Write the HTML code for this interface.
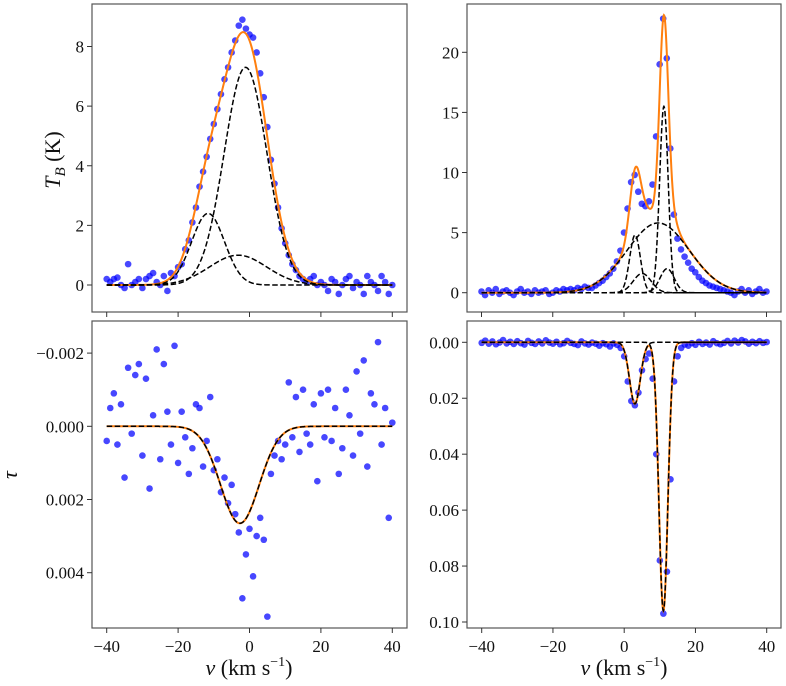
<!DOCTYPE html>
<html><head><meta charset="utf-8"><style>
html,body{margin:0;padding:0;background:#fff;}
svg{display:block;font-family:"Liberation Serif","DejaVu Serif",serif;}
</style></head><body>
<svg id="chart" width="786" height="686" viewBox="0 0 786 686" xmlns="http://www.w3.org/2000/svg"></svg>
<script>
// ---------- data ----------
const velocities = [];
for (let v = -40; v <= 40; v++) velocities.push(v);

const tbLeftValues = [0.2,0.1,0.2,0.25,0.0,-0.1,0.7,0.0,0.1,0.2,-0.1,0.2,0.3,0.4,0.1,
 0.0,0.3,-0.2,0.4,0.3,0.6,0.7,1.2,1.5,2.1,
 2.6,3.3,3.8,4.3,4.9,5.4,5.9,6.4,6.9,7.3,
 7.8,8.2,8.7,8.9,8.6,8.4,
 8.3,7.8,7.1,6.3,5.3,4.2,3.4,2.6,1.9,1.4,
 1.0,0.7,0.5,0.3,0.2,0.1,0.2,0.3,0.0,0.1,
 0.0,-0.2,0.2,0.1,-0.3,0.0,0.2,0.3,-0.1,0.1,0.0,-0.3,0.3,0.1,0.0,-0.2,0.3,0.1,-0.3,0.0];
const tbLeftAmps = [7.3, 2.4, 1.0];
const tbLeftCenters = [-1.1, -11.6, -3.2];
const tbLeftSigmas = [6.0, 4.6, 8.0];

const tbRightValues = [0.1,-0.2,0.2,0.0,0.3,-0.1,0.1,0.2,0.0,-0.2,
 0.1,0.3,0.0,0.1,-0.1,0.2,0.0,0.1,0.2,-0.1,
 0.0,0.2,0.1,0.3,0.2,0.3,0.2,0.4,0.3,0.5,0.4,
 0.4,0.6,0.8,1.0,1.3,1.6,2.0,2.6,3.5,5.0,7.0,9.2,9.8,8.4,7.4,7.2,7.6,9.0,13.0,19.0,
 22.8,19.5,12.0,6.5,4.5,3.6,3.0,2.5,2.0,1.7,1.3,1.0,0.8,0.6,0.5,0.4,0.3,0.2,
 0.1,0.0,-0.2,0.1,0.3,0.0,0.2,-0.1,0.1,0.3,0.0,0.1];
const tbRightAmps = [15.5, 4.8, 5.8, 1.6, 2.0];
const tbRightCenters = [11.2, 3.1, 9.6, 5.1, 12.1];
const tbRightSigmas = [1.2, 1.5, 8.75, 2.5, 2.0];

const tauLeftValues = [0.0004,-0.0005,-0.0009,0.0005,-0.0006,0.0014,-0.0016,0.0002,-0.0014,-0.0017,
 0.0008,-0.0013,0.0017,-0.0003,-0.0021,0.0009,-0.0017,-0.0004,0.0005,-0.0022,
 0.0010,-0.0004,0.0003,0.0013,0.0006,-0.0006,-0.0005,0.0011,0.0004,-0.0008,
 0.0012,0.0009,0.0018,0.0014,0.0021,0.0016,0.0024,0.0029,0.0047,0.0035,
 0.0028,0.0041,0.0030,0.0025,0.0031,0.0052,0.0013,0.0008,0.0004,0.0009,
 0.0005,-0.0012,0.0003,-0.0008,0.0007,-0.0010,0.0002,0.0005,-0.0006,0.0015,
 -0.0009,0.0003,-0.0010,0.0004,-0.0005,0.0013,0.0006,-0.0010,-0.0003,0.0008,
 -0.0015,0.0002,-0.0018,0.0011,-0.0009,-0.0006,-0.0023,0.0005,-0.0005,0.0025,-0.0001];
const tauLeftAmps = [0.00265];
const tauLeftCenters = [-2.7];
const tauLeftSigmas = [5.4];

const tauRightValues = [0.0002,-0.0006,0.0005,-0.0003,0.0007,0.0001,-0.0008,0.0004,-0.0002,0.0006,
 -0.0004,0.0003,0.0008,-0.0005,0.0002,0.0006,-0.0003,0.0004,-0.0007,0.0001,
 0.0005,-0.0002,0.0007,0.0003,-0.0005,0.0002,0.0006,0.0010,-0.0003,0.0004,
 0.0008,0.0001,0.0005,0.0012,0.0003,0.0007,0.0015,0.0004,0.0009,0.0020,
 0.0050,0.0140,0.0210,0.0225,0.0180,0.0100,0.0060,0.0040,0.0130,0.0400,
 0.0780,0.0970,0.0820,0.0490,0.0140,0.0050,0.0020,0.0008,0.0012,0.0003,
 0.0009,-0.0002,0.0006,0.0001,0.0008,-0.0004,0.0003,0.0007,0.0002,-0.0005,
 0.0004,-0.0006,0.0001,-0.0008,-0.0003,0.0005,-0.0002,0.0003,-0.0004,0.0002,-0.0001];
const tauRightAmps = [0.022, 0.096];
const tauRightCenters = [3.0, 11.0];
const tauRightSigmas = [1.5, 1.25];

const xTicks = [-40,-20,0,20,40];
const xTickLabels = ["\u221240","\u221220","0","20","40"];
const tbLeftTicks = [0,2,4,6,8];
const tbRightTicks = [0,5,10,15,20];
const tauLeftTicks = [-0.002,0,0.002,0.004];
const tauLeftTickLabels = ["\u22120.002","0.000","0.002","0.004"];
const tauRightTicks = [0,0.02,0.04,0.06,0.08,0.10];
const tauRightTickLabels = ["0.00","0.02","0.04","0.06","0.08","0.10"];

// ---------- drawing ----------
const NS = "http://www.w3.org/2000/svg";
const svg = document.getElementById("chart");
function mk(tag, attrs, parent) {
  const e = document.createElementNS(NS, tag);
  for (const k in attrs) e.setAttribute(k, attrs[k]);
  (parent || svg).appendChild(e);
  return e;
}
function gauss(v, a, c, s) { return a * Math.exp(-((v - c) * (v - c)) / (2 * s * s)); }

function panel(opt) {
  const g = mk("g", {});
  
  
  const xs = v => opt.px0 + (v - (-40)) * (opt.px1 - opt.px0) / 80;
  const ys = val => opt.y0px + (val - opt.y0val) * (opt.y1px - opt.y0px) / (opt.y1val - opt.y0val);
  const clip = "clip-" + opt.name;
  const cp = mk("clipPath", {id: clip}, g);
  mk("rect", {x: opt.fx, y: opt.fy, width: opt.fw, height: opt.fh}, cp);
  const plot = mk("g", {"clip-path": "url(#" + clip + ")"}, g);

  const pts = mk("g", {}, plot);
  
  
  for (let i = 0; i < velocities.length; i++) {
    const c = mk("circle", {cx: xs(velocities[i]), cy: ys(opt.values[i]), r: 3.3, fill: "#0000ff", "fill-opacity": 0.72}, pts);
    
    
  }
  let tot = "";
  for (let v = -40; v <= 40.0001; v += 0.1) {
    let s = 0;
    for (let k = 0; k < opt.amps.length; k++) s += gauss(v, opt.amps[k], opt.centers[k], opt.sigmas[k]);
    tot += (tot ? "L" : "M") + xs(v).toFixed(2) + "," + ys(s).toFixed(2);
  }
  const tl = mk("path", {d: tot, fill: "none", stroke: "#ff7f0e", "stroke-width": 2}, plot);
  
  
  for (let k = 0; k < opt.amps.length; k++) {
    let d = "";
    for (let v = -40; v <= 40.0001; v += 0.1) {
      d += (d ? "L" : "M") + xs(v).toFixed(2) + "," + ys(gauss(v, opt.amps[k], opt.centers[k], opt.sigmas[k])).toFixed(2);
    }
    const cl = mk("path", {d: d, fill: "none", stroke: "#000", "stroke-width": 1.5, "stroke-dasharray": "5.5,2.5"}, plot);
    
    
  }
  const fr = mk("rect", {x: opt.fx, y: opt.fy, width: opt.fw, height: opt.fh, fill: "none", stroke: "#555", "stroke-width": 1.2}, g);
  
  
  const by = opt.fy + opt.fh;
  for (let i = 0; i < xTicks.length; i++) {
    const x = xs(xTicks[i]);
    mk("line", {x1: x, x2: x, y1: by, y2: by + 5, stroke: "#333", "stroke-width": 1}, g);
    if (opt.xlabels) {
      const t = mk("text", {x: x, y: by + 24, "text-anchor": "middle", "font-size": 17, fill: "#111"}, g);
      t.textContent = xTickLabels[i];
      
      
    }
  }
  for (let i = 0; i < opt.yticks.length; i++) {
    const y = ys(opt.yticks[i]);
    mk("line", {x1: opt.fx - 5, x2: opt.fx, y1: y, y2: y, stroke: "#333", "stroke-width": 1}, g);
    const t = mk("text", {x: opt.fx - 8, y: y + 6, "text-anchor": "end", "font-size": 17, fill: "#111"}, g);
    t.textContent = opt.ylabels[i];
    
    
  }
}

panel({name: "tb-left-panel", px0: 106.7, px1: 392.3, fx: 92, fy: 4, fw: 315, fh: 308,
  y0val: 0, y0px: 285, y1val: 8, y1px: 46.5,
  values: tbLeftValues, amps: tbLeftAmps, centers: tbLeftCenters, sigmas: tbLeftSigmas,
  yticks: tbLeftTicks, ylabels: tbLeftTicks.map(String), xlabels: false});
panel({name: "tb-right-panel", px0: 481.5, px1: 766.5, fx: 467, fy: 4, fw: 314, fh: 308,
  y0val: 0, y0px: 292.7, y1val: 20, y1px: 52.3,
  values: tbRightValues, amps: tbRightAmps, centers: tbRightCenters, sigmas: tbRightSigmas,
  yticks: tbRightTicks, ylabels: tbRightTicks.map(String), xlabels: false});
panel({name: "tau-left-panel", px0: 106.7, px1: 392.3, fx: 92, fy: 321, fw: 315, fh: 307,
  y0val: 0, y0px: 426.3, y1val: 0.004, y1px: 572.7,
  values: tauLeftValues, amps: tauLeftAmps, centers: tauLeftCenters, sigmas: tauLeftSigmas,
  yticks: tauLeftTicks, ylabels: tauLeftTickLabels, xlabels: true});
panel({name: "tau-right-panel", px0: 481.7, px1: 766.7, fx: 467, fy: 321, fw: 314, fh: 307,
  y0val: 0, y0px: 342.3, y1val: 0.1, y1px: 622,
  values: tauRightValues, amps: tauRightAmps, centers: tauRightCenters, sigmas: tauRightSigmas,
  yticks: tauRightTicks, ylabels: tauRightTickLabels, xlabels: true});
</script>
<div style="position:absolute;left:0;top:0;width:786px;height:686px;pointer-events:none">
<svg width="786" height="686" style="position:absolute;left:0;top:0;font-family:'Liberation Serif','DejaVu Serif',serif">
  <text transform="translate(60,160) rotate(-90)" text-anchor="middle" font-size="22" fill="#111"><tspan font-style="italic">T</tspan><tspan font-style="italic" font-size="15" dy="5">B</tspan><tspan dy="-5"> (K)</tspan></text>
  <text transform="translate(17,475) rotate(-90)" text-anchor="middle" font-size="22" font-style="italic" fill="#111">τ</text>
  <text x="249" y="675" text-anchor="middle" font-size="22" fill="#111"><tspan font-style="italic">v</tspan> (km s<tspan font-size="14" dy="-9">−1</tspan><tspan dy="9">)</tspan></text>
  <text x="624" y="675" text-anchor="middle" font-size="22" fill="#111"><tspan font-style="italic">v</tspan> (km s<tspan font-size="14" dy="-9">−1</tspan><tspan dy="9">)</tspan></text>
</svg>
</div>
</body></html>
